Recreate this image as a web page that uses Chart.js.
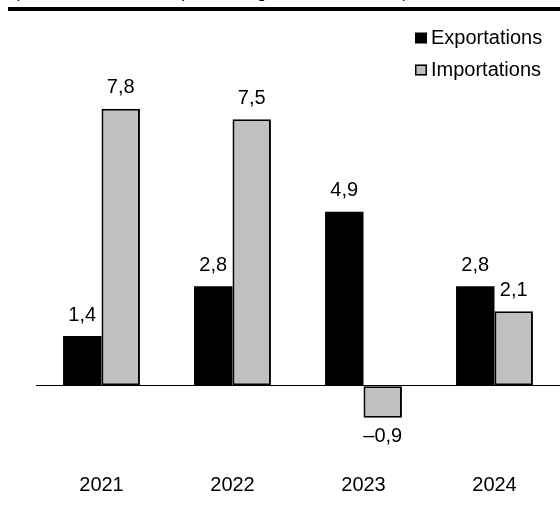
<!DOCTYPE html>
<html><head><meta charset="utf-8">
<script src="https://cdn.jsdelivr.net/npm/chart.js@4/dist/chart.umd.min.js"></script>
<style>
html,body{margin:0;padding:0;background:#fff;}
#wrap{position:relative;width:560px;height:506px;overflow:hidden;}
#title{position:absolute;left:14px;top:-17px;font:17px "Liberation Sans",Arial,sans-serif;white-space:nowrap;color:#000;}
#rule{position:absolute;left:8px;top:7px;width:552px;height:4px;background:#000;}
canvas{position:absolute;left:0;top:0;}
</style></head><body>
<div id="wrap">
<canvas id="c" width="560" height="506"></canvas>
<div id="title">(variation annuelle en pourcentage, en termes réels)</div>
<div id="rule"></div>
</div>
<script>
const categories = ['2021', '2022', '2023', '2024'];
const exportations = [1.4, 2.8, 4.9, 2.8];
const importations = [7.8, 7.5, -0.9, 2.1];
const seriesNames = ['Exportations', 'Importations'];

const FONT = '"Liberation Sans", Arial, sans-serif';

function fmt(v) {
  return (v < 0 ? '\u2013' : '') + Math.abs(v).toFixed(1).replace('.', ',');
}

const valueLabels = {
  id: 'valueLabels',
  afterDatasetsDraw(chart) {
    const ctx = chart.ctx;
    ctx.save();
    ctx.font = '20px ' + FONT;
    ctx.fillStyle = '#000';
    ctx.textAlign = 'center';
    ctx.textBaseline = 'middle';
    chart.data.datasets.forEach((ds, i) => {
      const meta = chart.getDatasetMeta(i);
      meta.data.forEach((bar, j) => {
        const v = ds.data[j];
        const y = v >= 0 ? bar.y - 21 : bar.y + 19;
        ctx.fillText(fmt(v), bar.x, y);
      });
    });
    ctx.restore();
  }
};

const boxLegend = {
  id: 'boxLegend',
  afterDraw(chart) {
    const ctx = chart.ctx;
    ctx.save();
    ctx.font = '20px ' + FONT;
    ctx.textAlign = 'left';
    ctx.textBaseline = 'middle';
    const rows = [38, 70];
    chart.data.datasets.forEach((ds, i) => {
      const cy = rows[i];
      ctx.fillStyle = ds.backgroundColor;
      ctx.fillRect(415, cy - 5.5, 12, 11);
      if (ds.borderWidth) {
        ctx.strokeStyle = '#000';
        ctx.lineWidth = 1.5;
        ctx.strokeRect(415.75, cy - 4.75, 10.5, 9.5);
      }
      ctx.fillStyle = '#000';
      ctx.fillText(ds.label, 431, cy);
    });
    ctx.restore();
  }
};

new Chart(document.getElementById('c'), {
  type: 'bar',
  data: {
    labels: categories,
    datasets: [
      { label: seriesNames[0], data: exportations, backgroundColor: '#000000', borderWidth: 0 },
      { label: seriesNames[1], data: importations, backgroundColor: '#c0c0c0', borderColor: '#000000', borderWidth: 2, borderSkipped: false }
    ]
  },
  options: {
    responsive: false,
    animation: false,
    categoryPercentage: 0.587,
    barPercentage: 1,
    layout: { padding: { top: 66, left: 0, right: 0, bottom: 0 } },
    plugins: { legend: { display: false }, tooltip: { enabled: false } },
    scales: {
      x: {
        grid: { display: false, drawTicks: false },
        border: { display: false },
        ticks: { color: '#000', font: { size: 20, family: FONT }, padding: 9 },
        afterFit(s) { s.height = 42; }
      },
      y: {
        min: -2.2,
        max: 9,
        ticks: { display: false, stepSize: 1 },
        border: { display: false },
        grid: {
          drawTicks: false,
          lineWidth: 1,
          color: c => (c.tick && c.tick.value === 0) ? '#000' : 'rgba(0,0,0,0)'
        },
        afterFit(s) { s.width = 36; }
      }
    }
  },
  plugins: [valueLabels, boxLegend]
});
</script>
</body></html>
